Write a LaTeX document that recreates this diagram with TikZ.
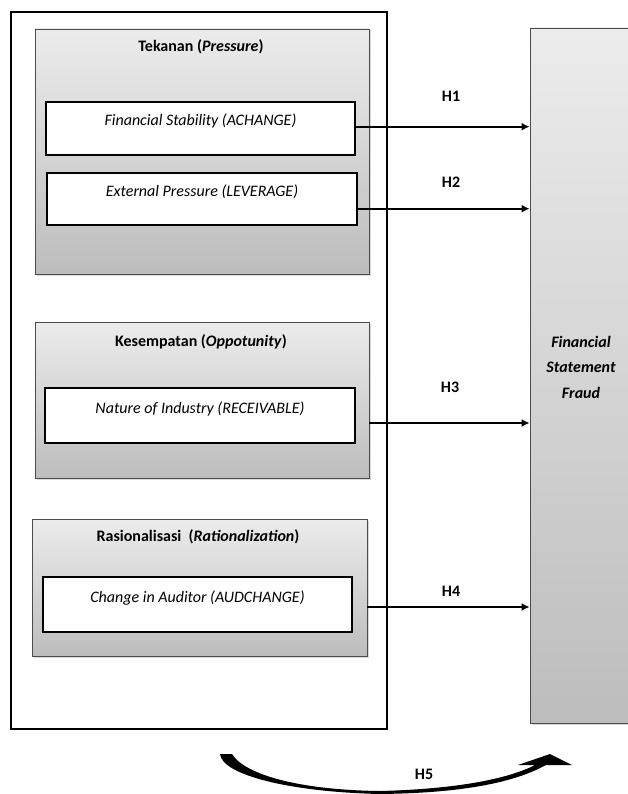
\documentclass[tikz,border=0pt]{standalone}
\usepackage{fontspec}
\setmainfont{Carlito}
\usetikzlibrary{shadows,arrows.meta}
\begin{document}
\begin{tikzpicture}[x=1pt,y=-1pt,>={Latex[length=8pt,width=8pt]},
  font=\fontsize{16}{19}\selectfont,
  group/.style={draw=gray!60!black,line width=.8pt,inner sep=0pt,top color=gray!15,bottom color=gray!52,
    drop shadow={opacity=.3,shadow xshift=1.5pt,shadow yshift=-1.5pt}},
  var/.style={draw,line width=2pt,fill=white,inner sep=0pt,font=\fontsize{16}{19}\selectfont\itshape,
    text height=11pt,text depth=16pt},
  ttl/.style={font=\fontsize{16}{19}\selectfont\bfseries},
  hyp/.style={font=\fontsize{16}{19}\selectfont\bfseries},
  link/.style={->,line width=2pt}]
\useasboundingbox (0,0) rectangle (627,794);
\node[draw,line width=2pt,minimum width=376pt,minimum height=717pt] (outer) at (199,370.5) {};
\node[group,minimum width=334pt,minimum height=245pt] (press) at (202,151.5) {};
\node[ttl] (presst) at (201,47) {Tekanan (\textit{Pressure})};
\node[var,minimum width=309pt,minimum height=53pt] (fin) at (200.5,128.5) {Financial Stability (ACHANGE)};
\node[var,minimum width=310pt,minimum height=52pt] (ext) at (202,199) {External Pressure (LEVERAGE)};
\node[group,minimum width=334pt,minimum height=156pt] (kes) at (202,400) {};
\node[ttl] (kest) at (201,342) {Kesempatan (\textit{Oppotunity})};
\node[var,minimum width=310pt,minimum height=55pt] (nat) at (200,415.5) {Nature of Industry (RECEIVABLE)};
\node[group,minimum width=335pt,minimum height=137pt] (rat) at (199.5,587.5) {};
\node[ttl] (ratt) at (198,537) {Rasionalisasi\ \ (\textit{Rationalization})};
\node[var,minimum width=309pt,minimum height=55pt] (chg) at (197.5,604.5) {Change in Auditor (AUDCHANGE)};
\node[group,minimum width=130pt,minimum height=695pt] (fsf) at (595,375.5) {};
\node[align=center,font=\fontsize{16}{25.5}\selectfont\bfseries\itshape] (fsft) at (581,367) {Financial\\Statement\\Fraud};
\coordinate (y1) at (0,126.7);
\coordinate (y2) at (0,208.7);
\coordinate (y3) at (0,423);
\coordinate (y4) at (0,607);
\draw[link] (fin.east |- y1) -- (fsf.west |- y1);
\draw[link] (ext.east |- y2) -- (fsf.west |- y2);
\draw[link] (kes.east |- y3) -- (fsf.west |- y3);
\draw[link] (rat.east |- y4) -- (fsf.west |- y4);
\node[hyp] (h1) at (451,96) {H1};
\node[hyp] (h2) at (451,182) {H2};
\node[hyp] (h3) at (450,387) {H3};
\node[hyp] (h4) at (451,591) {H4};
\node[hyp] (h5) at (424,774) {H5};
\fill (220,754) .. controls (222,775) and (290,792) .. (380,794)
  .. controls (465,793) and (515,782) .. (546,765) -- (572,765) -- (550,754) -- (518,765) -- (535,765)
  .. controls (510,778) and (460,789) .. (380,791)
  .. controls (300,790) and (245,775) .. (232,754) -- cycle;
\end{tikzpicture}
\end{document}
